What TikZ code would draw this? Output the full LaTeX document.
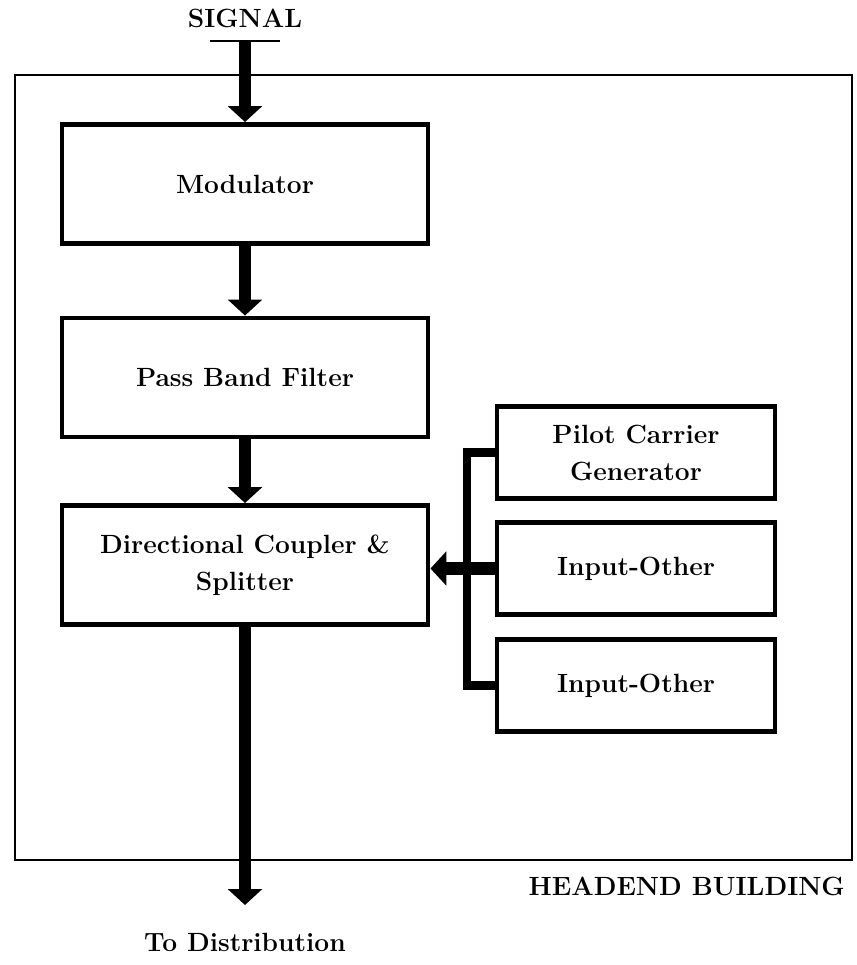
\documentclass[tikz,border=0pt]{standalone}
\usepackage{tikz}
\usetikzlibrary{positioning,arrows.meta}

\begin{document}
\begin{tikzpicture}[
  blk/.style={draw,line width=2.8pt,minimum width=7.32cm,minimum height=2.38cm,align=center,
              font=\fontsize{15}{21}\selectfont\bfseries},
  src/.style={draw,line width=2.8pt,minimum width=5.56cm,minimum height=1.84cm,align=center,
              font=\fontsize{15}{21}\selectfont\bfseries},
  flow/.style={line width=7pt,-{Triangle[width=19pt,length=9pt]}},
  bus/.style={line width=5pt},
  lbl/.style={font=\fontsize{15}{18}\selectfont\bfseries}]
\useasboundingbox (0,0) rectangle (17.14,-19.30);
% headend building
\draw[line width=1.3pt] (0.30,-1.50) rectangle (17.04,-17.20);
\node[lbl,anchor=east] (bldg) at (17.02,-17.72) {HEADEND BUILDING};
\node[lbl] (sig) at (4.90,-0.36) {SIGNAL};
\node[lbl] (dist) at (4.90,-18.84) {To Distribution};
% main chain
\node[blk] (mod) at (4.90,-3.68) {Modulator};
\node[blk] (pbf) at (4.90,-7.55) {Pass Band Filter};
\node[blk] (dcs) at (4.90,-11.30) {Directional Coupler \&\\Splitter};
% extra inputs
\node[src] (pcg) at (12.72,-9.05) {Pilot Carrier\\Generator};
\node[src] (in1) at (12.72,-11.37) {Input-Other};
\node[src] (in2) at (12.72,-13.71) {Input-Other};
\coordinate (sin) at (4.90,-0.82);
\coordinate (bt) at (9.34,-9.05);
\coordinate (out) at (4.90,-18.10);
\draw[line width=1.2pt] ([xshift=-0.7cm]sin) -- ([xshift=0.7cm]sin);
\draw[flow] (sin) -- (mod.north);
\draw[flow] (mod.south) -- (pbf.north);
\draw[flow] (pbf.south) -- (dcs.north);
\draw[flow] (dcs.south) -- (out);
\draw[bus] (pcg.west) -- (bt) -- (bt |- in2.west) -- (in2.west);
\draw[flow] (in1.west) -- (dcs.east |- in1.west);
\end{tikzpicture}
\end{document}
